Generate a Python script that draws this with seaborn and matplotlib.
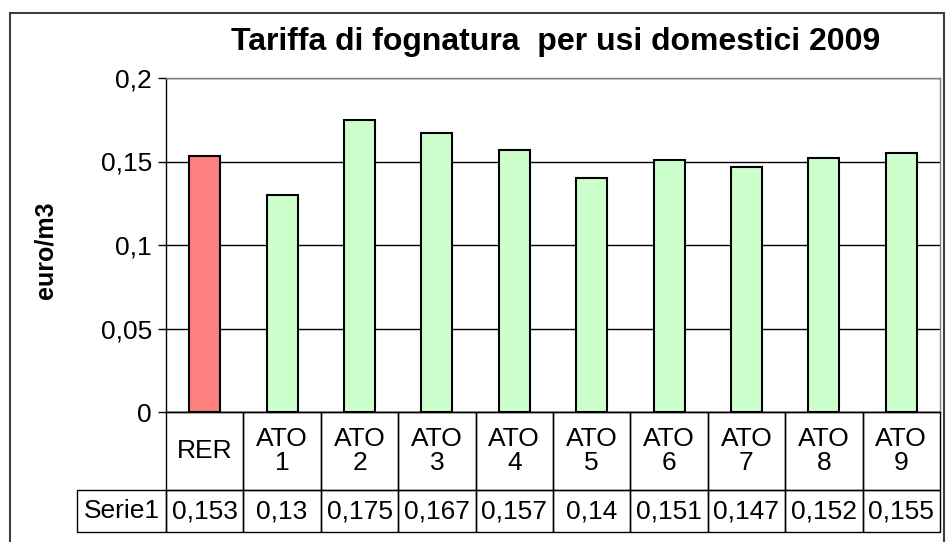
import matplotlib
matplotlib.use("Agg")
import matplotlib.pyplot as plt
import seaborn as sns
import pandas as pd
from matplotlib.patches import Rectangle
from matplotlib.ticker import FuncFormatter
import matplotlib.transforms as mtransforms

categories = ["RER", "ATO 1", "ATO 2", "ATO 3", "ATO 4", "ATO 5", "ATO 6", "ATO 7", "ATO 8", "ATO 9"]
values = [0.153, 0.13, 0.175, 0.167, 0.157, 0.14, 0.151, 0.147, 0.152, 0.155]
series_name = "Serie1"
bar_colors = ["#FF8080"] + ["#CCFFCC"] * 9

sns.set_style("white")
plt.rcParams["font.family"] = ["Liberation Sans", "DejaVu Sans"]
plt.rcParams["text.color"] = "black"
plt.rcParams["ytick.color"] = "black"
plt.rcParams["ytick.labelcolor"] = "black"

df = pd.DataFrame({"cat": categories, "val": values})

fig = plt.figure(figsize=(9.48, 5.42), dpi=100)
ax = fig.add_axes([166 / 948, 130 / 542, 774 / 948, 334 / 542])

sns.barplot(data=df, x="cat", y="val", hue="cat", palette=bar_colors, legend=False,
            saturation=1, width=0.4, edgecolor="black", linewidth=1.5, ax=ax, zorder=3)

ax.set_ylim(0, 0.2)
ax.set_xlim(-0.5, len(categories) - 0.5)
ax.set_yticks([0, 0.05, 0.1, 0.15, 0.2])
ax.yaxis.set_major_formatter(FuncFormatter(lambda v, p: f"{v:g}".replace(".", ",")))
ax.tick_params(axis="y", labelsize=19, length=6, width=1, color="black", labelcolor="black",
               direction="out", left=True, pad=4)
ax.set_xticks([])
ax.set_xlabel("")
ax.set_ylabel("")
ax.grid(axis="y", color="black", linewidth=1, zorder=0)
for s in ["left", "bottom"]:
    ax.spines[s].set_color("black")
    ax.spines[s].set_linewidth(1)
for s in ["top", "right"]:
    ax.spines[s].set_color("#808080")
    ax.spines[s].set_linewidth(1)

# data table below the plot
trans = mtransforms.blended_transform_factory(ax.transData, ax.transAxes)
h_cat = 78 / 334
h_val = 42 / 334
lw = 1
fs = 19
for i, (c, v) in enumerate(zip(categories, values)):
    x0 = i - 0.5
    ax.add_patch(Rectangle((x0, -h_cat), 1, h_cat, transform=trans, fill=False,
                           edgecolor="black", linewidth=lw, clip_on=False))
    ax.add_patch(Rectangle((x0, -h_cat - h_val), 1, h_val, transform=trans, fill=False,
                           edgecolor="black", linewidth=lw, clip_on=False))
    ax.text(i, -h_cat / 2, c.replace(" ", "\n"), transform=trans, ha="center", va="center",
            fontsize=fs, linespacing=1.05, clip_on=False)
    ax.text(i, -h_cat - h_val / 2, f"{v:g}".replace(".", ","), transform=trans,
            ha="center", va="center", fontsize=fs, clip_on=False)

lab_w = 89 / 774 * len(categories)
ax.add_patch(Rectangle((-0.5 - lab_w, -h_cat - h_val), lab_w, h_val, transform=trans, fill=False,
                       edgecolor="black", linewidth=lw, clip_on=False))
ax.text(-0.5 - lab_w / 2, -h_cat - h_val / 2, series_name, transform=trans,
        ha="center", va="center", fontsize=fs, clip_on=False)

fig.text(556 / 948, 1 - 42 / 542, "Tariffa di fognatura  per usi domestici 2009",
         ha="center", va="center", fontsize=23, fontweight="bold")
fig.text(46 / 948, 1 - 250 / 542, "euro/m3", rotation=90, ha="center", va="center",
         fontsize=18, fontweight="bold")

# outer chart frame
fig.patches.append(Rectangle((10 / 948, -0.05), 934 / 948, 1.05 - 13 / 542, transform=fig.transFigure,
                             fill=False, edgecolor="#404040", linewidth=1.5))

fig.savefig("out.png", dpi=100)
